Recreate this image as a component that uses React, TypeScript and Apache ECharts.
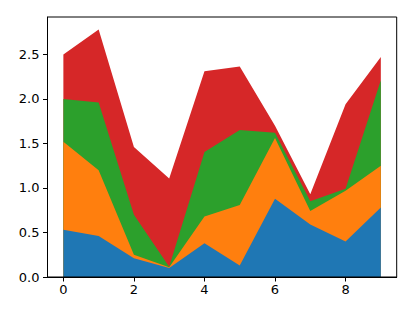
import React, { useEffect, useRef } from "react";
import * as echarts from "echarts";

const xs = [0, 1, 2, 3, 4, 5, 6, 7, 8, 9];
const blue = [0.53, 0.46, 0.21, 0.10, 0.38, 0.13, 0.88, 0.59, 0.40, 0.78];
const orange = [0.99, 0.74, 0.04, 0.01, 0.30, 0.68, 0.68, 0.15, 0.57, 0.47];
const green = [0.48, 0.76, 0.45, 0.005, 0.725, 0.84, 0.06, 0.11, 0.02, 0.96];
const red = [0.50, 0.82, 0.76, 0.99, 0.905, 0.715, 0.08, 0.08, 0.95, 0.26];
const xTicks = [0, 2, 4, 6, 8];
const yTicks = [0, 0.5, 1.0, 1.5, 2.0, 2.5];
const colors = ["#1f77b4", "#ff7f0e", "#2ca02c", "#d62728"];

export default function App() {
  const ref = useRef<HTMLDivElement>(null);
  useEffect(() => {
    const chart = echarts.init(ref.current!, null, { renderer: "svg" });
    const font = { fontFamily: "DejaVu Sans", fontSize: 13, color: "#000" };
    const layers = [blue, orange, green, red];
    // cumulative tops of each layer
    const cum: number[][] = [];
    layers.forEach((vals, i) => {
      cum.push(vals.map((v, k) => v + (i > 0 ? cum[i - 1][k] : 0)));
    });
    // draw from the top layer down so each lower band paints over the upper one
    const series = [3, 2, 1, 0].map((i, order) => ({
      type: "line",
      name: "s" + i,
      z: 2 + order,
      data: xs.map((x, k) => [x, cum[i][k]]),
      showSymbol: false,
      symbol: "none",
      lineStyle: { width: 0 },
      areaStyle: { color: colors[i], opacity: 1, origin: "start" },
      itemStyle: { color: colors[i] },
    }));
    chart.setOption({
      animation: false,
      grid: {
        left: 47.5,
        right: 18.3,
        top: 17,
        bottom: 32,
        show: true,
        borderColor: "#000",
        borderWidth: 1,
        z: 10,
      },
      xAxis: {
        type: "value",
        min: -0.45,
        max: 9.45,
        splitLine: { show: false },
        axisLine: { show: true, onZero: false, lineStyle: { color: "#000" } },
        axisTick: { show: true, length: 4.5, customValues: xTicks, lineStyle: { color: "#000" } },
        axisLabel: { ...font, margin: 6, customValues: xTicks, formatter: (v: number) => String(v) },
      },
      yAxis: {
        type: "value",
        min: 0,
        max: 2.92,
        splitLine: { show: false },
        axisLine: { show: true, onZero: false, lineStyle: { color: "#000" } },
        axisTick: { show: true, length: 4.5, customValues: yTicks, lineStyle: { color: "#000" } },
        axisLabel: { ...font, margin: 8, customValues: yTicks, formatter: (v: number) => v.toFixed(1) },
      },
      series,
    });
    return () => chart.dispose();
  }, []);
  return (
    <div
      ref={ref}
      style={{ position: "absolute", left: 0, top: 0, width: 415, height: 309, background: "#fff" }}
    />
  );
}
